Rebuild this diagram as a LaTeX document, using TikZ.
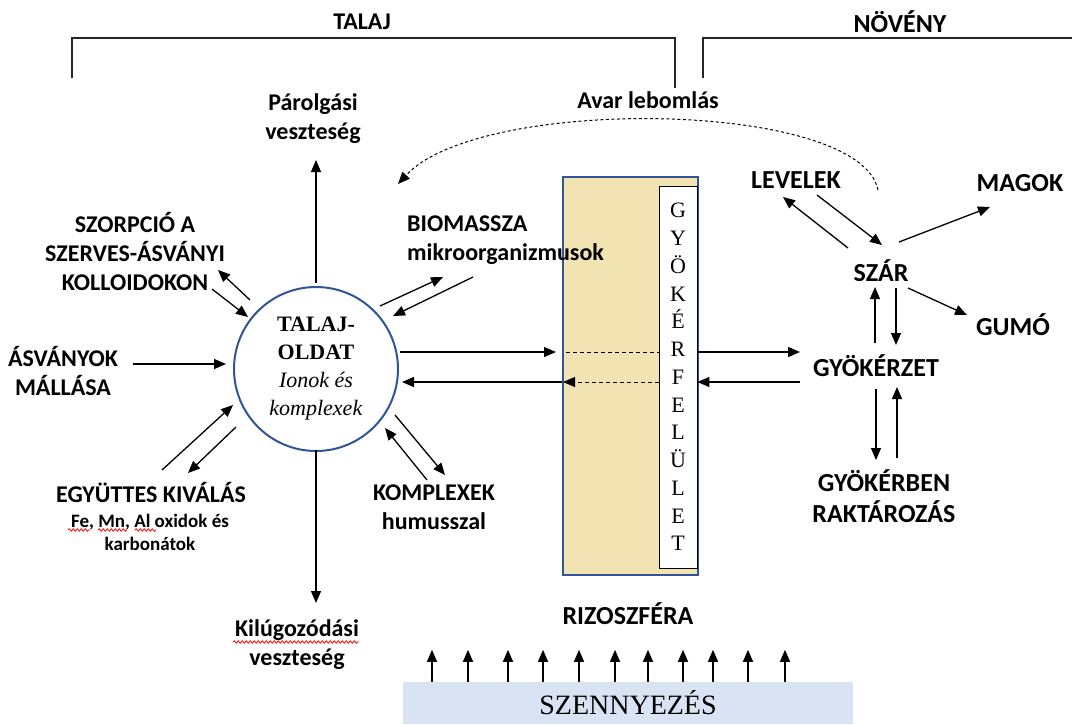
\documentclass[tikz,border=0pt]{standalone}
\usepackage{fontspec}
\setmainfont{Liberation Serif}
\newfontfamily\lab{Carlito}
\usetikzlibrary{arrows.meta,decorations.pathmorphing}
\definecolor{cblue}{RGB}{47,85,151}
\definecolor{ctan}{RGB}{242,227,178}
\definecolor{cltblue}{RGB}{218,227,243}
\begin{document}
\begin{tikzpicture}[x=1pt,y=-1pt,
  lbl/.style={font=\lab\bfseries\fontsize{24}{29}\selectfont, align=center, inner sep=0pt},
  biglbl/.style={font=\lab\bfseries\fontsize{26}{31}\selectfont, align=center, inner sep=0pt},
  smalllbl/.style={font=\lab\bfseries\fontsize{19}{23}\selectfont, align=center, inner sep=0pt},
  arr/.style={-{Triangle[length=12pt,width=10pt]}, line width=1.3pt},
  dsh/.style={line width=1pt, dash pattern=on 4pt off 3pt},
  bracket/.style={line width=2.4pt, draw=black!85},
  wavy/.style={draw=red, line width=0.8pt, decorate, decoration={snake, amplitude=1.2pt, segment length=4pt}}
]
\useasboundingbox (0,0) rectangle (1072,724);

% brackets
\node[lbl] (talaj) at (362,22) {TALAJ};
\node[biglbl] (noveny) at (900,22) {NÖVÉNY};
\draw[bracket] (72,78) -- (72,38) -- (675,38) -- (675,88);
\draw[bracket] (703,78) -- (703,38) -- (1072,38);

% root zone box
\node[draw=cblue, fill=ctan, line width=2pt, minimum width=135, minimum height=398, inner sep=0pt] (rizo) at (630.5,376) {};
\node[draw=black, fill=white, line width=0.9pt, minimum width=38, minimum height=382, inner sep=0pt,
      align=center, font=\fontsize{22}{27.75}\selectfont] (felulet) at (678,377)
      {G\\Y\\Ö\\K\\É\\R\\F\\E\\L\\Ü\\L\\E\\T};

% soil solution
\node[circle, draw=cblue, line width=2pt, minimum size=164pt, inner sep=0pt, align=center,
      font=\fontsize{22}{28}\selectfont] (oldat) at (316,369)
      {\textbf{TALAJ-}\\\textbf{OLDAT}\\\textit{Ionok és}\\\textit{komplexek}};

% labels
\node[lbl] (avar) at (648,100) {Avar lebomlás};
\node[lbl] (parolg) at (313,119) {Párolgási\\veszteség};
\node[lbl] (sorp) at (135,251) {SZORPCIÓ A\\SZERVES-ÁSVÁNYI\\KOLLOIDOKON};
\node[lbl] (asv) at (63,371) {ÁSVÁNYOK\\MÁLLÁSA};
\node[lbl] (egy) at (151,493) {EGYÜTTES KIVÁLÁS};
\node[smalllbl] (fe) at (150,532.5) {Fe, Mn, Al oxidok és\\karbonátok};
\node[lbl] (kil) at (297,645) {Kilúgozódási\\veszteség};
\node[lbl] (kompl) at (434,507) {KOMPLEXEK\\humusszal};
\node[lbl, align=left, anchor=west] (bio) at (407,240) {BIOMASSZA\\mikroorganizmusok};
\node[biglbl] (levelek) at (796,180) {LEVELEK};
\node[biglbl] (magok) at (1020,183) {MAGOK};
\node[biglbl] (szar) at (881,271) {SZÁR};
\node[biglbl] (gumo) at (1013,325) {GUMÓ};
\node[biglbl] (gyokerzet) at (876,366) {GYÖKÉRZET};
\node[biglbl] (raktar) at (884,496) {GYÖKÉRBEN\\RAKTÁROZÁS};
\node[biglbl] (rizof) at (628,614) {RIZOSZFÉRA};

% pollution
\node[fill=cltblue, minimum width=450, minimum height=42, inner sep=0pt,
      font=\fontsize{28}{30}\selectfont] (szenny) at (628,703) {SZENNYEZÉS};
\foreach \x in {432,468,508,543,579,615,648,683,713,748,785}
  \draw[arr] (szenny.north -| \x,0) -- ++(0,-32);

% spell-check underlines
\draw[wavy] (68,530) -- (90,530);
\draw[wavy] (98,530) -- (127,530);
\draw[wavy] (135,530) -- (156,530);
\draw[wavy] (233,642) -- (359,642);

% connector end points
\coordinate (p1a) at (316,283); \coordinate (p1b) at (316,160);
\coordinate (s1a) at (250,300); \coordinate (s1b) at (218,270);
\coordinate (s2a) at (212,289); \coordinate (s2b) at (248,317);
\coordinate (m1a) at (133,364); \coordinate (m1b) at (226,364);
\coordinate (e1a) at (162,470); \coordinate (e1b) at (233,405);
\coordinate (e2a) at (236,427); \coordinate (e2b) at (188,473);
\coordinate (k1a) at (316,450); \coordinate (k1b) at (316,603);
\coordinate (h1a) at (427,480); \coordinate (h1b) at (385,428);
\coordinate (h2a) at (395,415); \coordinate (h2b) at (445,475);
\coordinate (b1a) at (380,306); \coordinate (b1b) at (443,277);
\coordinate (b2a) at (473,277); \coordinate (b2b) at (393,316);
\coordinate (l1a) at (848,248); \coordinate (l1b) at (783,197);
\coordinate (l2a) at (817,195); \coordinate (l2b) at (882,245);
\coordinate (g1a) at (899,242); \coordinate (g1b) at (990,207);
\coordinate (u1a) at (908,288); \coordinate (u1b) at (967,315);
\coordinate (z1a) at (875,343); \coordinate (z1b) at (875,287);
\coordinate (z2a) at (896,288); \coordinate (z2b) at (896,345);
\coordinate (r1a) at (876,389); \coordinate (r1b) at (876,460);
\coordinate (r2a) at (897,458); \coordinate (r2b) at (897,387);
\coordinate (av1) at (878,190); \coordinate (av2) at (398,184);

\draw[arr] (p1a) -- (p1b);
\draw[arr] (s1a) -- (s1b);
\draw[arr] (s2a) -- (s2b);
\draw[arr] (m1a) -- (m1b);
\draw[arr] (e1a) -- (e1b);
\draw[arr] (e2a) -- (e2b);
\draw[arr] (k1a) -- (k1b);
\draw[arr] (h1a) -- (h1b);
\draw[arr] (h2a) -- (h2b);
\draw[arr] (b1a) -- (b1b);
\draw[arr] (b2a) -- (b2b);
\draw[arr] (l1a) -- (l1b);
\draw[arr] (l2a) -- (l2b);
\draw[arr] (g1a) -- (g1b);
\draw[arr] (u1a) -- (u1b);
\draw[arr] (z1a) -- (z1b);
\draw[arr] (z2a) -- (z2b);
\draw[arr] (r1a) -- (r1b);
\draw[arr] (r2a) -- (r2b);

% uptake / release through root surface
\coordinate (up) at (400,352);
\coordinate (dn) at (402,382);
\draw[arr] (up) -- ([xshift=-6pt]up -| rizo.west);
\draw[dsh] ([xshift=4pt]up -| rizo.west) -- (up -| felulet.west);
\draw[arr] (up -| felulet.east) -- (up -| 800,0);
\draw[arr] (dn -| 800,0) -- (dn -| felulet.east);
\draw[dsh, -{Triangle[length=12pt,width=10pt]}] (dn -| felulet.west) -- ([xshift=1pt]dn -| rizo.west);
\draw[arr] (dn -| rizo.west) -- (dn);

% litter decomposition
\draw[line width=1pt, dash pattern=on 3pt off 2.5pt, -{Triangle[length=12pt,width=10pt]}]
  (av1) .. controls (860,100) and (480,95) .. (av2);
\end{tikzpicture}
\end{document}
